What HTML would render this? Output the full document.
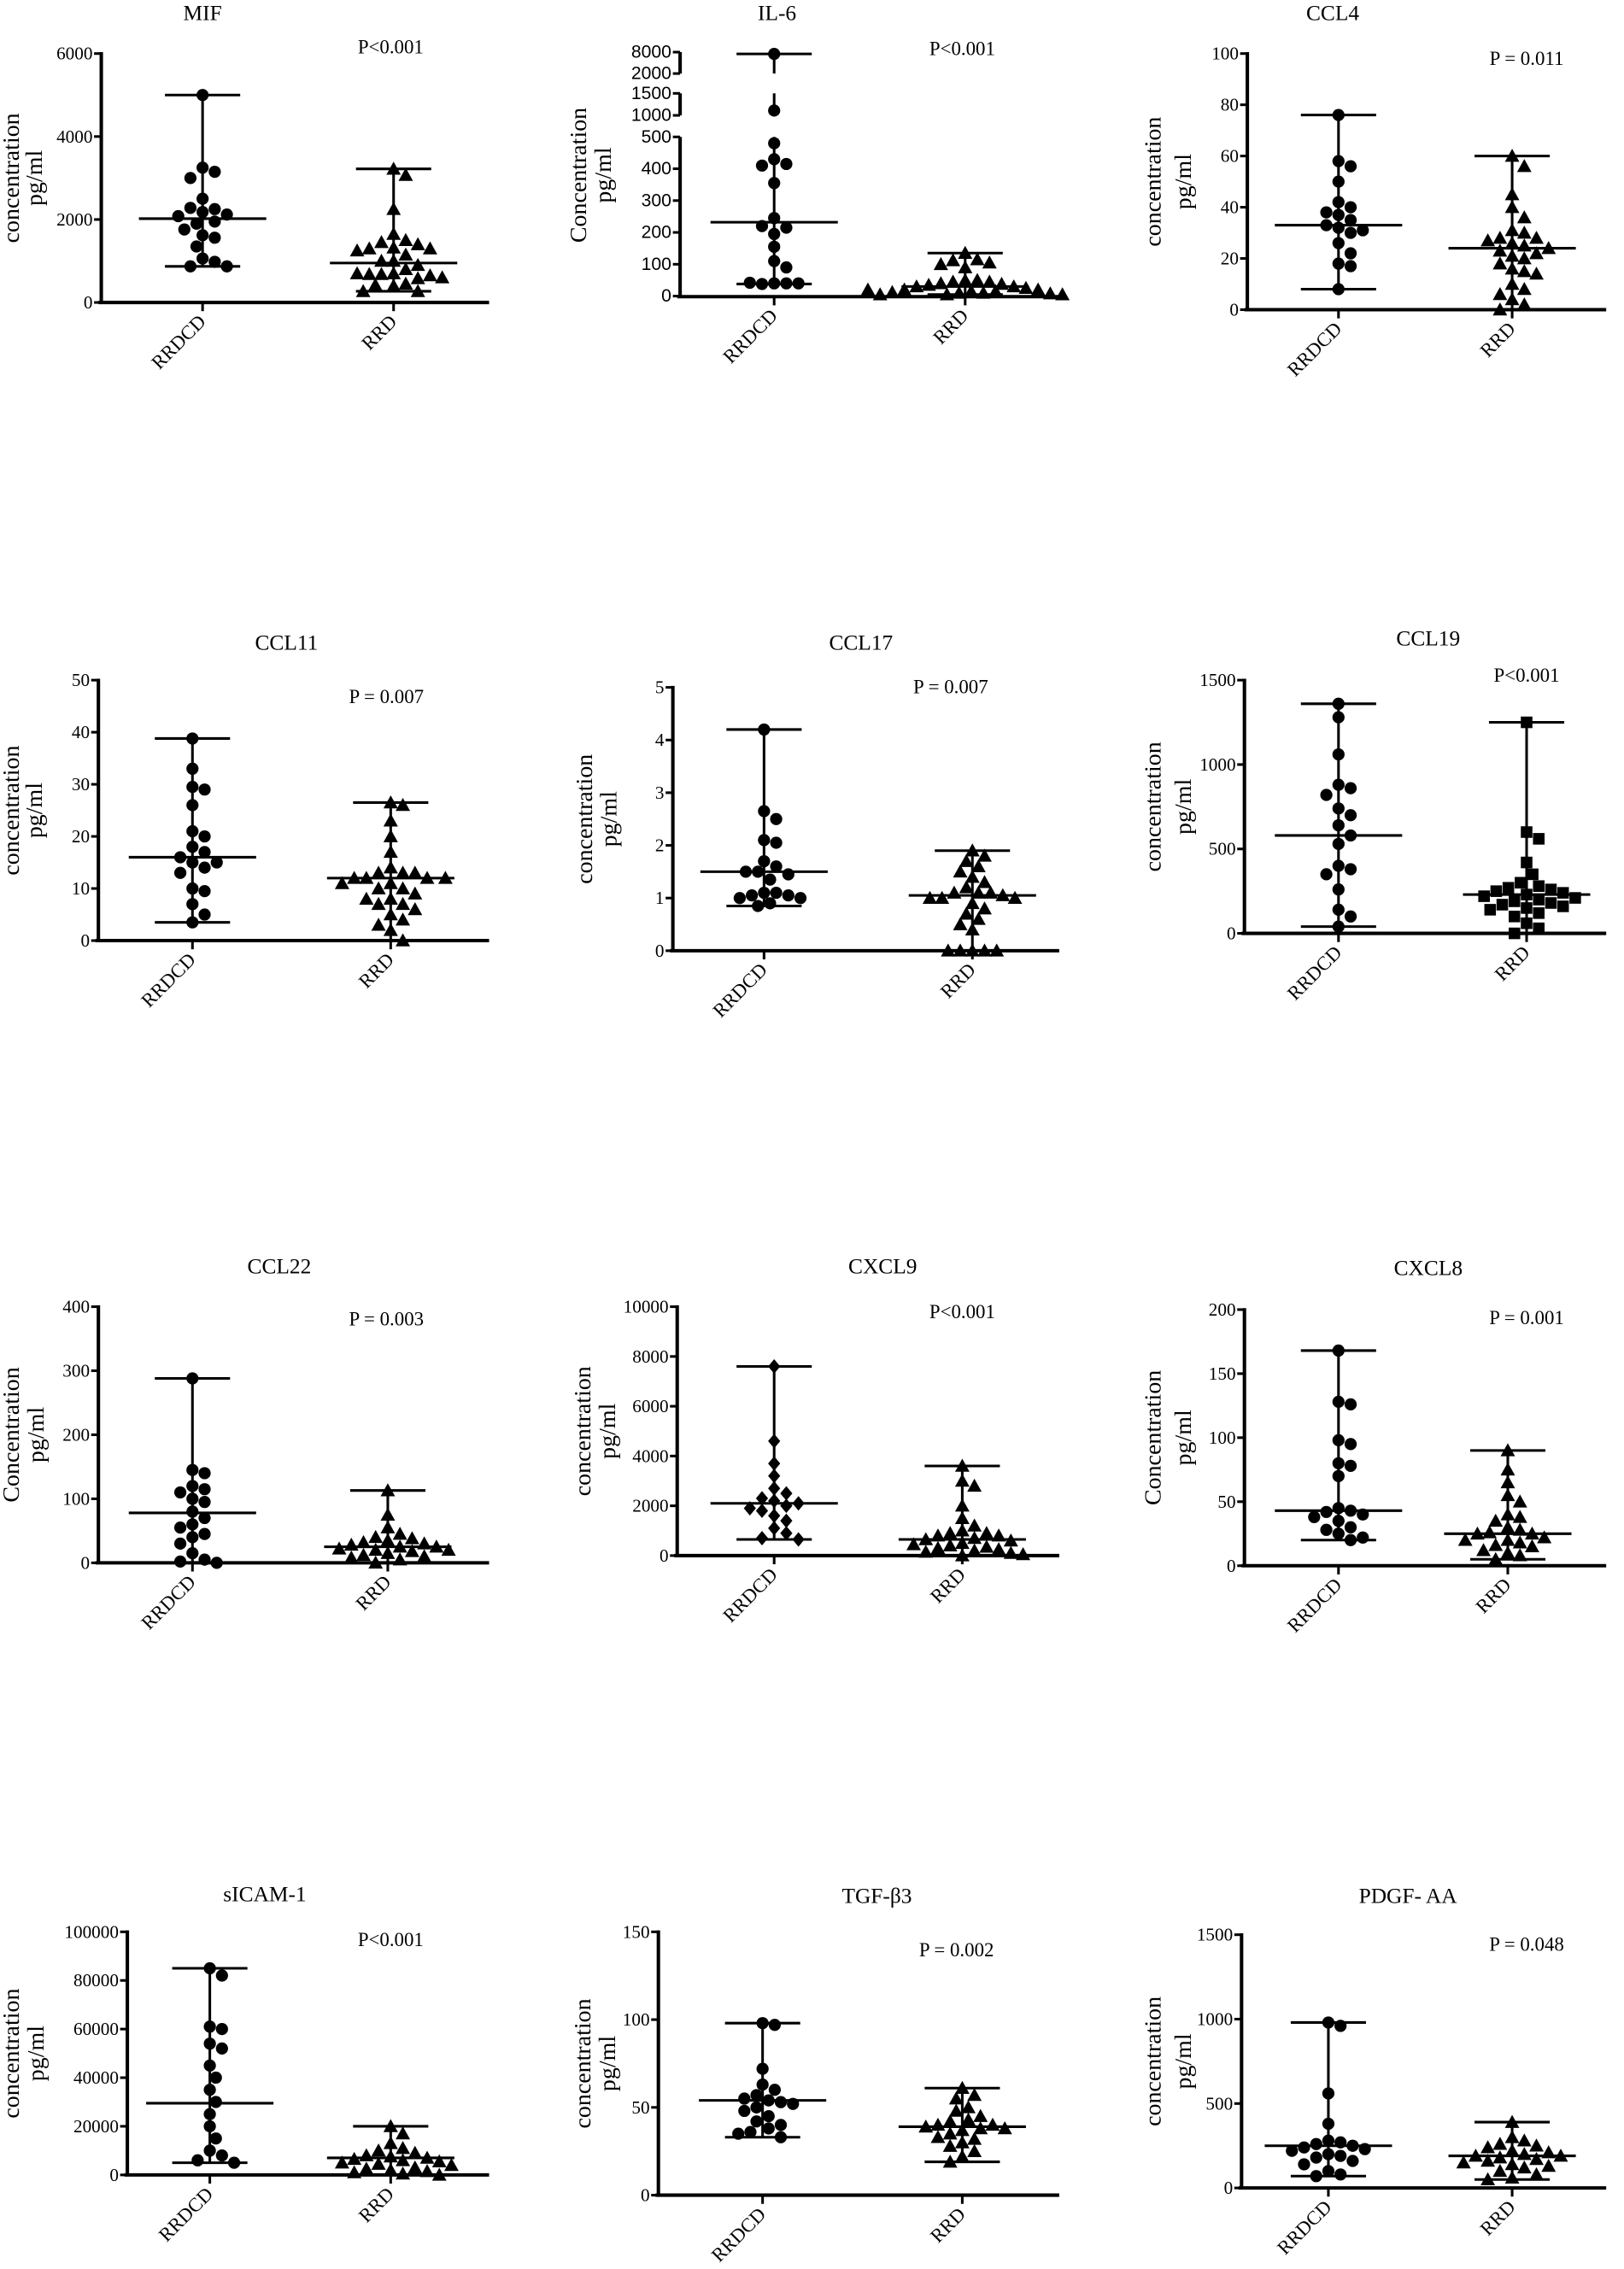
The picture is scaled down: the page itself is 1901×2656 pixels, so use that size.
<!DOCTYPE html>
<html><head><meta charset="utf-8"><style>
html,body{margin:0;padding:0;background:#fff}
svg{display:block}
text{font-family:"Liberation Serif",serif;fill:#000}
.sans{font-family:"Liberation Sans",sans-serif}
</style></head><body>
<svg id="chart" width="1901" height="2656" viewBox="0 0 1122.3 1568" xmlns="http://www.w3.org/2000/svg"></svg>
<script>
// ---- data ----
const panelTitles = ["MIF","IL-6","CCL4","CCL11","CCL17","CCL19","CCL22","CXCL9","CXCL8","sICAM-1","TGF-β3","PDGF-   AA"];
const pValues = ["P<0.001","P<0.001","P = 0.011","P = 0.007","P = 0.007","P<0.001","P = 0.003","P<0.001","P = 0.001","P<0.001","P = 0.002","P = 0.048"];
const categories = ["RRDCD","RRD"];
const tickMIF=[0,2000,4000,6000], tickIL6=[0,100,200,300,400,500,1000,1500,2000,8000], tickCCL4=[0,20,40,60,80,100],
 tickCCL11=[0,10,20,30,40,50], tickCCL17=[0,1,2,3,4,5], tickCCL19=[0,500,1000,1500], tickCCL22=[0,100,200,300,400],
 tickCXCL9=[0,2000,4000,6000,8000,10000], tickCXCL8=[0,50,100,150,200], tickICAM=[0,20000,40000,60000,80000,100000],
 tickTGF=[0,50,100,150], tickPDGF=[0,500,1000,1500];
const mifA=[5000,3250,3150,3000,2500,2250,2280,2180,2120,2080,1950,1900,1760,1620,1560,1350,1060,980,870,870];
const mifB=[3220,3070,2250,1650,1500,1450,1400,1320,1300,1300,1250,1150,1000,1000,900,800,700,680,680,650,700,580,600,450,400,420,270,270];
const il6A=[7500,1110,480,430,415,410,355,245,215,220,195,155,110,90,40,40,38,40,42];
const il6B=[135,115,112,105,100,90,50,50,45,45,40,38,35,30,30,25,20,20,15,12,10,10,8,5,5,5,20,15];
const ccl4A=[76,58,56,50,42,40,38,37,35,33,32,31,30,26,22,18,17,8];
const ccl4B=[60,56,45,40,36,31,30,28,28,27,26,25,24,23,22,21,20,18,16,15,14,10,8,6,4,2,0];
const ccl11A=[38.8,33,29.5,29,26,21,20,18,17,16,15,15,14,13,10,9.5,7,5,3.5];
const ccl11B=[26.5,26,23,20,17,14,13,13,13,12,12,12,12,11,11,10,10,9,8,8,7,7,6,5,4,3,2,0];
const ccl17A=[4.2,2.65,2.5,2.1,2.05,1.7,1.6,1.5,1.5,1.45,1.35,1.1,1.1,1.05,1.05,1.0,1.0,0.9,0.85];
const ccl17B=[1.9,1.8,1.7,1.6,1.5,1.4,1.3,1.2,1.1,1.1,1.1,1.05,1.0,1.0,1.0,0.9,0.8,0.7,0.6,0.5,0.4,0,0,0,0,0];
const ccl19A=[1360,1280,1060,880,860,820,740,700,640,580,530,400,380,350,260,140,100,40];
const ccl19B=[1250,600,560,420,350,300,280,270,260,250,240,230,220,210,200,190,180,170,160,150,140,120,100,60,30,0];
const ccl22A=[288,145,140,120,115,110,100,95,80,70,60,55,45,40,30,15,5,2,0];
const ccl22B=[113,75,55,45,40,38,35,32,30,28,25,25,22,20,20,18,15,12,10,8,5,0];
const cxcl9A=[7600,4600,3700,3200,2700,2500,2300,2200,2100,2000,1900,1800,1600,1400,1100,900,700,650];
const cxcl9B=[3600,3000,2800,2000,1500,1200,1000,900,900,800,800,700,650,600,500,450,400,350,300,250,200,150,100,50,0];
const cxcl8A=[168,128,126,98,95,80,78,70,45,43,42,40,38,35,30,28,25,22,20];
const cxcl8B=[90,75,65,55,50,40,38,35,30,28,26,25,25,22,20,20,18,16,15,12,10,8,5];
const icamA=[85000,82000,61000,60000,54000,52000,45000,40000,35000,30000,25000,20000,15000,10000,8000,6000,5000];
const icamB=[20000,17000,13000,11000,10000,9000,8000,7500,7000,6500,6000,5500,5000,4500,4000,3000,2500,2000,1500,1000,500,0];
const tgfA=[98,97,72,63,60,57,55,54,53,52,50,48,45,42,40,38,36,35,33];
const tgfB=[61,57,55,50,48,45,43,42,40,40,39,38,38,37,35,33,32,30,28,25,22,19];
const pdgfA=[980,960,560,380,280,270,260,250,240,230,220,200,190,180,160,140,100,80,70];
const pdgfB=[390,300,280,260,250,240,220,210,200,190,190,180,170,160,150,140,130,120,100,80,60,50];
const mediansA=[2020,232,33,16,1.5,580,78,2100,43,29500,54,250];
const mediansB=[950,30,24,12,1.05,230,25,650,25,7000,39,190];

// ---- layout (displayed units) ----
const panels=[
 {t:0,a:mifA,b:mifB,ticks:tickMIF,max:6000,ax:70,top:37,y0:209,xe:338,g:[140,272],tx:140,ty:14,px:270,py:37,yl:"concentration",l1:8,l2:24,mk:["c","t"]},
 {t:1,a:il6A,b:il6B,ticks:tickIL6,max:8000,ax:470,top:37,y0:205,xe:732,g:[535,667],tx:537,ty:14,px:665,py:38,yl:"Concentration",l1:400,l2:417,mk:["c","t"],sans:true,
  seg:[{d0:0,d1:500,p0:204.6,p1:94.6},{d0:1000,d1:1500,p0:79.7,p1:64.5},{d0:2000,d1:8000,p0:50.8,p1:36}]},
 {t:2,a:ccl4A,b:ccl4B,ticks:tickCCL4,max:100,ax:862,top:37,y0:214,xe:1110,g:[925,1045],tx:921,ty:14,px:1055,py:45,yl:"concentration",l1:797,l2:818,mk:["c","t"]},
 {t:3,a:ccl11A,b:ccl11B,ticks:tickCCL11,max:50,ax:68,top:470,y0:650,xe:338,g:[133,270],tx:198,ty:449,px:267,py:486,yl:"concentration",l1:8,l2:24,mk:["c","t"]},
 {t:4,a:ccl17A,b:ccl17B,ticks:tickCCL17,max:5,ax:465,top:475,y0:657,xe:732,g:[528,672],tx:595,ty:449,px:657,py:479,yl:"concentration",l1:404,l2:421,mk:["c","t"]},
 {t:5,a:ccl19A,b:ccl19B,ticks:tickCCL19,max:1500,ax:860,top:470,y0:645,xe:1110,g:[925,1055],tx:987,ty:446,px:1055,py:471,yl:"concentration",l1:797,l2:818,mk:["c","s"]},
 {t:6,a:ccl22A,b:ccl22B,ticks:tickCCL22,max:400,ax:68,top:903,y0:1080,xe:338,g:[133,268],tx:193,ty:880,px:267,py:916,yl:"Concentration",l1:8,l2:25,mk:["c","t"]},
 {t:7,a:cxcl9A,b:cxcl9B,ticks:tickCXCL9,max:10000,ax:468,top:903,y0:1075,xe:732,g:[535,665],tx:610,ty:880,px:665,py:911,yl:"concentration",l1:403,l2:420,mk:["d","t"]},
 {t:8,a:cxcl8A,b:cxcl8B,ticks:tickCXCL8,max:200,ax:860,top:905,y0:1082,xe:1110,g:[925,1042],tx:987,ty:881,px:1055,py:915,yl:"Concentration",l1:797,l2:818,mk:["c","t"]},
 {t:9,a:icamA,b:icamB,ticks:tickICAM,max:100000,ax:88,top:1335,y0:1503,xe:338,g:[145,270],tx:183,ty:1314,px:270,py:1345,yl:"concentration",l1:8,l2:25,mk:["c","t"]},
 {t:10,a:tgfA,b:tgfB,ticks:tickTGF,max:150,ax:455,top:1335,y0:1517,xe:732,g:[527,665],tx:606,ty:1315,px:661,py:1352,yl:"concentration",l1:403,l2:420,mk:["c","t"]},
 {t:11,a:pdgfA,b:pdgfB,ticks:tickPDGF,max:1500,ax:858,top:1337,y0:1512,xe:1110,g:[918,1045],tx:973,ty:1315,px:1055,py:1348,yl:"concentration",l1:797,l2:818,mk:["c","t"]}
];
const NS="http://www.w3.org/2000/svg";
const svg=document.getElementById('chart');
function mk(tag,attrs,parent){const e=document.createElementNS(NS,tag);for(const k in attrs)e.setAttribute(k,attrs[k]);(parent||svg).appendChild(e);return e;}
function yScale(p,v){
  if(p.seg){for(const s of p.seg){if(v<=s.d1||s===p.seg[p.seg.length-1]){const vv=Math.max(v,s.d0);return s.p0+(vv-s.d0)/(s.d1-s.d0)*(s.p1-s.p0);}}}
  return p.y0+(v/p.max)*(p.top-p.y0);
}
function marker(g,type,x,y){
  const r=4.2;let e;
  if(type==="c")e=mk('circle',{cx:x,cy:y,r:r},g);
  else if(type==="t")e=mk('polygon',{points:`${x},${y-5} ${x-5},${y+4} ${x+5},${y+4}`},g);
  else if(type==="s")e=mk('rect',{x:x-4,y:y-4,width:8,height:8},g);
  else e=mk('polygon',{points:`${x},${y-5} ${x+4.2},${y} ${x},${y+5} ${x-4.2},${y}`},g);
  
  
  e.setAttribute('fill','#000');
}
function swarm(ys){
  const placed=[];const d=8.4;const out=[];const maxW=72;
  ys.forEach(y=>{let best=0,bestD=-1;
    for(let k=0;;k++){const off=(k%2?1:-1)*Math.ceil(k/2)*d*0.5;
      if(Math.abs(off)>maxW)break;
      const md=placed.length?Math.min(...placed.map(q=>Math.hypot(q[0]-off,q[1]-y))):99;
      if(md>=d){best=off;bestD=md;break;}
      if(md>bestD){bestD=md;best=off;}}
    placed.push([best,y]);out.push(best);});
  return out;
}
panels.forEach((p,i)=>{
  const g=mk('g',{});
  
  
  const tt=mk('text',{x:p.tx,y:p.ty,'text-anchor':'middle','font-size':15},g);tt.textContent=panelTitles[i];
  
  const pt=mk('text',{x:p.px,y:p.py,'text-anchor':'middle','font-size':13.5},g);pt.textContent=pValues[i];
  
  const mid=(p.top+p.y0)/2;
  const y1=mk('text',{x:p.l1,y:mid,'text-anchor':'middle','dominant-baseline':'central','font-size':16.5,transform:`rotate(-90 ${p.l1} ${mid})`},g);y1.textContent=p.yl;
  
  const y2=mk('text',{x:p.l2,y:mid,'text-anchor':'middle','dominant-baseline':'central','font-size':16.5,transform:`rotate(-90 ${p.l2} ${mid})`},g);y2.textContent="pg/ml";
  
  if(p.seg){
    p.seg.forEach(s=>{const l=mk('line',{x1:p.ax,x2:p.ax,y1:s.p0,y2:s.p1,stroke:'#000','stroke-width':2.4},g);
      });
  } else {
    const l=mk('line',{x1:p.ax,x2:p.ax,y1:p.top-1,y2:p.y0+1,stroke:'#000','stroke-width':2.4},g);
    
  }
  p.ticks.forEach(v=>{const y=yScale(p,v);
    mk('line',{x1:p.ax-5,x2:p.ax,y1:y,y2:y,stroke:'#000','stroke-width':1.8},g);
    const t=mk('text',{x:p.ax-6,y:y,'text-anchor':'end','dominant-baseline':'central','font-size':12.5},g);
    if(p.sans)t.setAttribute('class','sans');
    t.textContent=v;
    });
  const xa=mk('line',{x1:p.ax-2,x2:p.xe,y1:p.y0,y2:p.y0,stroke:'#000','stroke-width':2.4},g);
  
  [p.a,p.b].forEach((vals,gi)=>{
    const cx=p.g[gi];
    mk('line',{x1:cx,x2:cx,y1:p.y0,y2:p.y0+6,stroke:'#000','stroke-width':1.8},g);
    const lx=cx+3,ly=p.y0+14;
    const ct=mk('text',{x:lx,y:ly,'text-anchor':'end','font-size':13.5,transform:`rotate(-45 ${lx} ${ly})`},g);ct.textContent=categories[gi];
    
    const mn=Math.min(...vals),mx=Math.max(...vals),md=gi?mediansB[i]:mediansA[i];
    const ymn=yScale(p,mn),ymx=yScale(p,mx),ymd=yScale(p,md);
    if(p.seg && mx>p.seg[0].d1){
      [[ymn,p.seg[0].p1],[p.seg[1].p0,p.seg[1].p1],[p.seg[2].p0,ymx]].forEach(s=>mk('line',{x1:cx,x2:cx,y1:s[0],y2:s[1],stroke:'#000','stroke-width':1.8},g));
    } else mk('line',{x1:cx,x2:cx,y1:ymn,y2:ymx,stroke:'#000','stroke-width':1.8},g);
    [ymn,ymx].forEach(y=>{const c=mk('line',{x1:cx-26,x2:cx+26,y1:y,y2:y,stroke:'#000','stroke-width':1.8},g);
      });
    const ml=mk('line',{x1:cx-44,x2:cx+44,y1:ymd,y2:ymd,stroke:'#000','stroke-width':1.8},g);
    
    const ys=vals.map(v=>yScale(p,v));
    const xs=swarm(ys);
    ys.forEach((y,k)=>marker(g,p.mk[gi],cx+xs[k],y));
  });
});
</script>
</body></html>
